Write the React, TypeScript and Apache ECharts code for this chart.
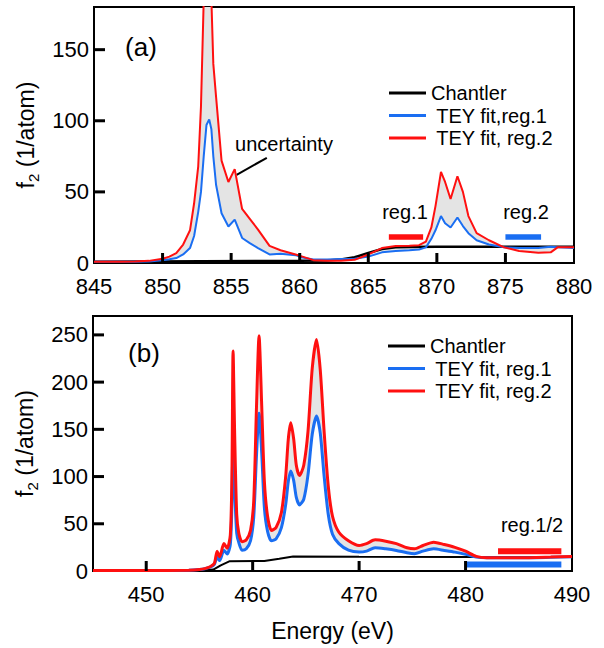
import React, { useEffect, useRef } from "react";
import * as echarts from "echarts";

const FONT = "'Liberation Sans', Arial, Helvetica, sans-serif";
const RED = "#ff1010";
const BLUE = "#1a6ef2";
const BLACK = "#000000";
const FILL = "#e4e4e4";

// ---------- Panel (a) : 845-880 eV ----------
const aEnergy = [845, 846, 847, 848, 849, 850, 850.5, 851, 851.5, 852, 852.3, 852.6, 852.8, 853.0, 853.2, 853.4, 853.56, 853.7, 853.9, 854.3, 854.8, 855.26, 855.8, 856.36, 856.96, 857.8, 858.6, 859.7, 860.2, 861, 862, 863, 864, 865, 866, 867, 868, 868.7, 869.2, 869.6, 869.9, 870.3, 870.6, 871.0, 871.5, 871.9, 872.3, 872.9, 873.8, 874.9, 876, 877.4, 878.3, 878.8, 880];
const aReg2 = [0.8, 0.8, 0.9, 1.0, 1.5, 3, 4.5, 7, 13, 23, 42, 68, 110, 185, 230, 235, 185, 140, 117, 72, 57, 66, 38, 31, 23.5, 12, 9, 6, 4.5, 2, 1.5, 1.5, 2.2, 6, 10.5, 12, 12.2, 12.5, 15, 25, 40, 64, 57, 45, 61, 50, 33, 21, 16, 11, 8.5, 7.2, 7.5, 11, 11];
const aReg1 = [0.8, 0.8, 0.8, 0.8, 1, 2, 2.7, 3.5, 6, 10.5, 19, 36, 50, 75, 97, 101, 94, 75, 55, 35, 25.7, 30.5, 17.6, 14, 10.5, 6, 6.5, 5.5, 3.8, 2.5, 2.5, 2.8, 3, 4.5, 7.5, 8.5, 9, 9.5, 11, 17, 23, 33, 28, 25, 32, 26, 21, 16, 13, 11, 10.5, 10.5, 11.5, 11, 10.5];
const aChantlerEnergy = [845, 860, 862, 863, 864, 865, 866, 867, 868, 870, 880];
const aChantler = [0.8, 1.5, 1.8, 2.5, 4, 7, 9.8, 11, 11.3, 11.5, 11.5];
const aXLabels = [845, 850, 855, 860, 865, 870, 875, 880];
const aXTicks = [850, 855, 860, 865, 870, 875];
const aYLabels = [0, 50, 100, 150];
const aYTicks = [50, 100, 150];
const aReg1Bar = [[866.5, 18.3], [869.0, 18.3]];
const aReg2Bar = [[875.0, 18.3], [877.6, 18.3]];
const aArrow = [[857.6, 74], [855.4, 62]];

// ---------- Panel (b) : 445-490 eV ----------
const bEnergy = [445, 450, 454, 455, 455.5, 456, 456.4, 456.66, 456.9, 457.3, 457.6, 457.9, 458.05, 458.16, 458.3, 458.5, 458.7, 459.0, 459.4, 459.8, 460.1, 460.35, 460.6, 460.85, 461.1, 461.4, 461.77, 462.2, 462.7, 463.1, 463.35, 463.58, 463.85, 464.1, 464.4, 464.8, 465.2, 465.6, 466.0, 466.35, 466.7, 467.1, 467.5, 468.1, 469, 470, 470.7, 471.5, 472.5, 473.5, 474.5, 475.2, 476, 477, 478, 479, 480, 481, 482, 485, 488, 490];
const bReg2 = [0.5, 0.5, 0.8, 1.5, 2.5, 4.5, 8, 21, 15, 29, 24, 38, 100, 233, 150, 60, 40, 31, 33, 43, 74, 170, 249, 175, 95, 58, 43, 46, 62, 100, 140, 157, 140, 112, 101, 112, 148, 215, 245, 213, 150, 90, 58, 41, 32, 27, 29, 33, 31.6, 29, 24.6, 23.5, 27, 30.5, 28, 25, 21, 15.5, 14, 14, 14.7, 15.4];
const bReg1 = [0.5, 0.5, 0.8, 1.5, 2.3, 4, 7, 15, 11, 22, 18, 28, 70, 145, 90, 40, 30, 22, 23.5, 32, 57, 120, 167, 125, 67, 42, 32, 34, 46, 70, 95, 106, 96, 78, 70, 76, 102, 145, 164, 146, 102, 60, 39, 29, 22, 20, 21, 24.6, 23.5, 21.8, 19.3, 18.3, 21, 23.5, 21.8, 20, 17.6, 14.7, 14, 14, 14.5, 15];
const bChantlerEnergy = [445, 455, 456.3, 457, 457.85, 461.1, 462.5, 463.8, 470, 480, 490];
const bChantler = [0.5, 0.5, 1.5, 6, 10.4, 10.6, 13, 15.3, 15, 14.8, 14.8];
const bXLabels = [450, 460, 470, 480, 490];
const bXTicks = [450, 460, 470, 480];
const bYLabels = [0, 50, 100, 150, 200, 250];
const bYTicks = [50, 100, 150, 200, 250];
const bReg2Bar = [[483.05, 20.8], [489.0, 20.8]];
const bReg1Bar = [[480.0, 7], [489.0, 7]];

const pairs = (xs: number[], ys: number[]) => xs.map((x, i) => [x, ys[i]]);

function axisPair(gridIndex: number, xMin: number, xMax: number, yMax: number,
  xLabels: number[], yLabels: number[], xName: string) {
  const x = {
    type: "value", gridIndex, min: xMin, max: xMax,
    name: xName, nameLocation: "middle", nameGap: 48,
    nameTextStyle: { fontFamily: FONT, fontSize: 23, color: BLACK },
    axisLine: { show: true, lineStyle: { color: BLACK, width: 2 } },
    axisTick: { show: false },
    axisLabel: { show: true, customValues: xLabels, margin: 12, fontFamily: FONT, fontSize: 22, color: BLACK },
    splitLine: { show: false },
  };
  const y = {
    type: "value", gridIndex, min: 0, max: yMax,
    name: "{i|f}{s|2}{i| (1/atom)}", nameLocation: "middle", nameGap: 48,
    nameTextStyle: {
      color: BLACK,
      rich: {
        i: { fontFamily: FONT, fontSize: 23, color: BLACK, lineHeight: 30 },
        s: { fontFamily: FONT, fontSize: 15, color: BLACK, lineHeight: 30, verticalAlign: "bottom" },
      },
    },
    axisLine: { show: true, lineStyle: { color: BLACK, width: 2 } },
    axisTick: { show: false },
    axisLabel: { show: true, customValues: yLabels, margin: 5, fontFamily: FONT, fontSize: 22, color: BLACK },
    splitLine: { show: false },
  };
  return { x, y };
}

function bandSeries(idx: number, xs: number[], lo: number[], hi: number[], smooth: number) {
  return {
    type: "custom", coordinateSystem: "cartesian2d", xAxisIndex: idx, yAxisIndex: idx,
    data: xs.map((x, i) => [x, lo[i], hi[i]]),
    encode: { x: 0, y: [1, 2] },
    clip: true, silent: true, z: 1,
    renderItem: (params: any, api: any) => {
      if (params.dataIndex !== 0) return { type: "group", children: [] };
      const top = xs.map((x, i) => api.coord([x, hi[i]]));
      const bot = xs.map((x, i) => api.coord([x, lo[i]])).reverse();
      return {
        type: "polygon",
        shape: { points: top.concat(bot), smooth },
        style: { fill: FILL, stroke: "none" },
      };
    },
  };
}

const textEl = (text: string, x: number, y: number, fontSize: number) => ({
  type: "text", x, y, z: 20,
  style: { text, fontFamily: FONT, fontSize, fill: BLACK, textAlign: "center", textVerticalAlign: "middle" },
});

export default function App() {
  const ref = useRef<HTMLDivElement>(null);
  useEffect(() => {
    if (!ref.current) return;
    const chart = echarts.init(ref.current, null, { renderer: "svg" });
    const A = axisPair(0, 845, 880, 180, aXLabels, aYLabels, "");
    const B = axisPair(1, 445, 490, 270, bXLabels, bYLabels, "Energy (eV)");

    const lineSeries = (name: string, idx: number, data: number[][], color: string, width: number, smooth: number | boolean, z: number) => ({
      type: "line", name, xAxisIndex: idx, yAxisIndex: idx, data,
      showSymbol: false, symbol: "none", smooth,
      color, itemStyle: { color },
      lineStyle: { color, width },
      z, silent: true,
    });
    const barSeries = (idx: number, data: number[][], color: string, width: number) => ({
      type: "line", xAxisIndex: idx, yAxisIndex: idx, data, symbol: "none",
      lineStyle: { color, width, cap: "butt" }, itemStyle: { color }, z: 6, silent: true,
    });
    const legendText = { fontFamily: FONT, fontSize: 20, color: BLACK, lineHeight: 20 };

    const option = {
      animation: false,
      backgroundColor: "#ffffff",
      textStyle: { fontFamily: FONT },
      grid: [
        { left: 94, top: 7, width: 480, height: 256, show: true, borderColor: BLACK, borderWidth: 2, containLabel: false },
        { left: 93, top: 316, width: 479, height: 255, show: true, borderColor: BLACK, borderWidth: 2, containLabel: false },
      ],
      xAxis: [A.x, B.x],
      yAxis: [A.y, B.y],
      legend: [
        {
          left: 384, top: 78, orient: "vertical", itemWidth: 37, itemHeight: 3, itemGap: 2.5,
          icon: "rect", selectedMode: false, textStyle: legendText,
          data: ["Chantler", " TEY fit,reg.1", " TEY fit, reg.2"],
        },
        {
          left: 383, top: 331, orient: "vertical", itemWidth: 37, itemHeight: 3, itemGap: 2.5,
          icon: "rect", selectedMode: false, textStyle: legendText,
          data: ["Chantler", " TEY fit, reg.1", " TEY fit, reg.2"],
        },
      ],
      series: [
        bandSeries(0, aEnergy, aReg1, aReg2, 0),
        lineSeries("Chantler", 0, pairs(aChantlerEnergy, aChantler), BLACK, 2.5, false, 3),
        lineSeries(" TEY fit,reg.1", 0, pairs(aEnergy, aReg1), BLUE, 2, false, 4),
        {
          ...lineSeries(" TEY fit, reg.2", 0, pairs(aEnergy, aReg2), RED, 2, false, 5),
          markLine: {
            silent: true, symbol: ["none", "arrow"], symbolSize: [0, 15],
            label: { show: false },
            lineStyle: { color: BLACK, width: 2, type: "solid" },
            data: [[{ coord: aArrow[0] }, { coord: aArrow[1] }]],
          },
        },
        barSeries(0, aReg1Bar, RED, 5.5),
        barSeries(0, aReg2Bar, BLUE, 5.5),
        bandSeries(1, bEnergy, bReg1, bReg2, 0.2),
        lineSeries("Chantler", 1, pairs(bChantlerEnergy, bChantler), BLACK, 2, false, 3),
        lineSeries(" TEY fit, reg.1", 1, pairs(bEnergy, bReg1), BLUE, 3, 0.25, 4),
        lineSeries(" TEY fit, reg.2", 1, pairs(bEnergy, bReg2), RED, 3, 0.25, 5),
        barSeries(1, bReg2Bar, RED, 6),
        barSeries(1, bReg1Bar, BLUE, 6),
      ],
    };
    chart.setOption(option as any);

    // inward tick marks placed through the axes' own scales (filled rects)
    const ticks: any[] = [];
    const addTicks = (gridIndex: number, xTicks: number[], yTicks: number[], xMin: number) => {
      xTicks.forEach((v) => {
        const p = chart.convertToPixel({ gridIndex } as any, [v, 0]) as number[];
        ticks.push({ type: "rect", z: 30, shape: { x: p[0] - 1.5, y: p[1] - 10, width: 3, height: 10 }, style: { fill: BLACK } });
      });
      yTicks.forEach((v) => {
        const p = chart.convertToPixel({ gridIndex } as any, [xMin, v]) as number[];
        ticks.push({ type: "rect", z: 30, shape: { x: p[0], y: p[1] - 1.5, width: 11, height: 3 }, style: { fill: BLACK } });
      });
    };
    addTicks(0, aXTicks, aYTicks, 845);
    addTicks(1, bXTicks, bYTicks, 445);

    chart.setOption({
      graphic: [
        textEl("(a)", 141, 47, 26),
        textEl("uncertainty", 284, 144, 20),
        textEl("reg.1", 405, 212, 20),
        textEl("reg.2", 526, 212, 20),
        textEl("(b)", 144, 353, 26),
        textEl("reg.1/2", 532, 525, 20),
        ...ticks,
      ],
    } as any);
    return () => chart.dispose();
  }, []);
  return <div ref={ref} style={{ position: "fixed", left: 0, top: 0, width: 604, height: 648, background: "#fff" }} />;
}
